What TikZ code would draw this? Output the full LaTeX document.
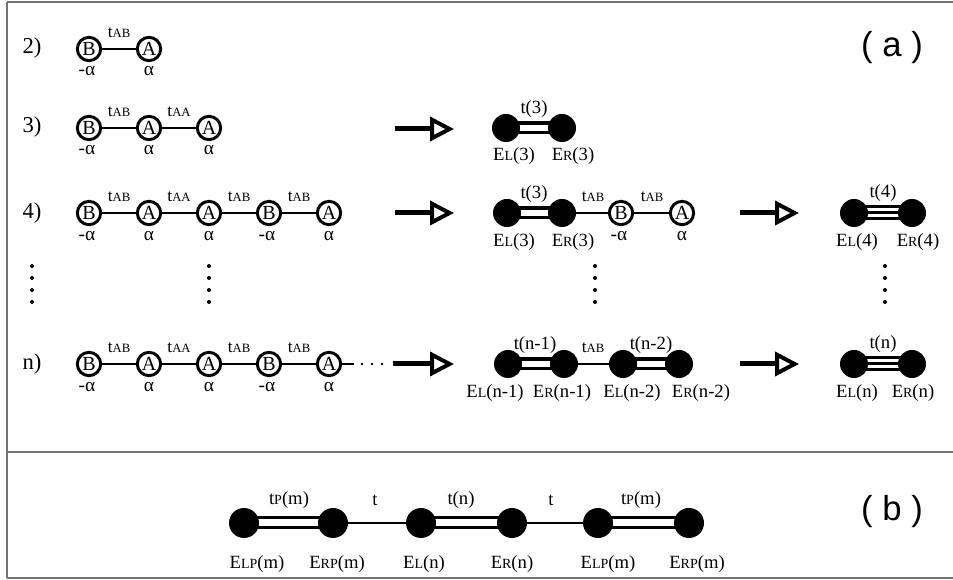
\documentclass[tikz,border=0pt]{standalone}
\usepackage{fontspec}
\setmainfont{Liberation Serif}
\newfontfamily\lblsans{Liberation Sans}
\usetikzlibrary{arrows.meta,backgrounds}
\newcommand\mysub[1]{{\fontsize{10.5}{11}\selectfont #1}}
\newcommand\tsub[1]{{\fontsize{9.5}{10}\selectfont #1}}
\begin{document}
\begin{tikzpicture}[x=0.75pt,y=-0.75pt,
  rowlbl/.style={font=\fontsize{17}{19}\selectfont, inner sep=0},
  tl/.style={font=\fontsize{13}{14}\selectfont, inner sep=0},
  bl/.style={font=\fontsize{14}{15}\selectfont, inner sep=0},
  el/.style={font=\fontsize{14}{15}\selectfont, inner sep=0},
  al/.style={font=\fontsize{14.5}{15}\selectfont, inner sep=0},
  site/.style={circle, draw, line width=2.2pt, minimum size=17.5pt, inner sep=0, font=\fontsize{15}{15}\selectfont},
  ball/.style={circle, fill=black, minimum size=21pt, inner sep=0},
  bigball/.style={circle, fill=black, minimum size=22.5pt, inner sep=0},
  sbond/.style={line width=1.7pt},
  dout/.style={line width=9.75pt},
  din/.style={draw=white, line width=4.5pt},
  bout/.style={line width=9.75pt},
  bin/.style={draw=white, line width=5.25pt},
  tout/.style={line width=11.25pt},
  tin/.style={draw=white, line width=2.25pt},
  bigarrow/.style={line width=3.75pt, -{Triangle[open, length=18pt, width=18pt, line width=3pt]}},
  frameline/.style={draw=black!55, line width=1.1pt},
  vdot/.style={circle, fill=black, minimum size=3pt, inner sep=0},
  sdot/.style={circle, fill=black, minimum size=2pt, inner sep=0},
  partlbl/.style={font=\lblsans\fontsize{26}{28}\selectfont, inner sep=0}
]
\useasboundingbox (0,0) rectangle (953,580);
% frame
\draw[frameline] (7,2) -- (953,2);
\draw[frameline] (7,2) -- (7,578);
\draw[frameline] (7,452) -- (953,452);
\draw[frameline] (7,578) -- (953,578);

\node[partlbl] (pa) at (892,48) {( a )};
\node[partlbl] (pb) at (892,512) {( b )};

% row labels
\node[rowlbl] (L2) at (32,48) {2)};
\node[rowlbl] (L3) at (32,127) {3)};
\node[rowlbl] (L4) at (32,213) {4)};
\node[rowlbl] (Ln) at (32,364) {n)};

% ---- row 2
\node[site] (r2c1) at (89,49) {B};
\node[site] (r2c2) at (149,49) {A};
\draw[sbond] (r2c1) -- (r2c2);
\node[tl] (r2t1) at (119,33) {t\tsub{AB}};
\node[al] (r2a1) at (87,71) {-α};
\node[al] (r2a2) at (149,71) {α};

% ---- row 3
\foreach \x/\l/\k in {89/B/1,149/A/2,209/A/3}
  \node[site] (r3c\k) at (\x,128) {\l};
\draw[sbond] (r3c1) -- (r3c2);
\draw[sbond] (r3c2) -- (r3c3);
\node[tl] (r3t1) at (119,112) {t\tsub{AB}};
\node[tl] (r3t2) at (179,112) {t\tsub{AA}};
\node[al] (r3a1) at (87,150) {-α};
\node[al] (r3a2) at (149,150) {α};
\node[al] (r3a3) at (209,150) {α};
\coordinate (ar3s) at (395,129);
\coordinate (ar3e) at (454,129);
\draw[bigarrow] (ar3s) -- (ar3e);
\node[ball] (r3e1) at (506,128) {};
\node[ball] (r3e2) at (562,128) {};
\begin{scope}[on background layer]
  \draw[dout] (r3e1.center) -- (r3e2.center);
  \draw[din] (r3e1.center) -- (r3e2.center);
\end{scope}
\node[bl] (r3tt) at (534,109) {t(3)};
\node[el] (r3l1) at (514,156) {E\mysub{L}(3)};
\node[el] (r3l2) at (573,156) {E\mysub{R}(3)};

% ---- row 4
\foreach \x/\l/\k in {89/B/1,149/A/2,209/A/3,269/B/4,329/A/5}
  \node[site] (r4c\k) at (\x,213) {\l};
\foreach \i/\j/\s/\x in {1/2/AB/119,2/3/AA/179,3/4/AB/239,4/5/AB/299} {
  \draw[sbond] (r4c\i) -- (r4c\j);
  \node[tl] (r4t\i) at (\x,197) {t\tsub{\s}};
}
\foreach \x/\a/\k in {87/-α/1,149/α/2,209/α/3,267/-α/4,329/α/5}
  \node[al] (r4a\k) at (\x,236) {\a};
\coordinate (ar4s) at (395,213);
\coordinate (ar4e) at (454,213);
\draw[bigarrow] (ar4s) -- (ar4e);
\node[ball] (r4e1) at (507,213) {};
\node[ball] (r4e2) at (562,213) {};
\begin{scope}[on background layer]
  \draw[dout] (r4e1.center) -- (r4e2.center);
  \draw[din] (r4e1.center) -- (r4e2.center);
\end{scope}
\node[site] (r4m1) at (621,213) {B};
\node[site] (r4m2) at (682,213) {A};
\draw[sbond] (r4e2) -- (r4m1);
\draw[sbond] (r4m1) -- (r4m2);
\node[bl] (r4tt) at (534,194) {t(3)};
\node[tl] (r4tm1) at (593,197) {t\tsub{AB}};
\node[tl] (r4tm2) at (652,197) {t\tsub{AB}};
\node[el] (r4l1) at (514,242) {E\mysub{L}(3)};
\node[el] (r4l2) at (573,242) {E\mysub{R}(3)};
\node[al] (r4ma1) at (619,236) {-α};
\node[al] (r4ma2) at (682,236) {α};
\coordinate (ar4bs) at (740,213);
\coordinate (ar4be) at (799,213);
\draw[bigarrow] (ar4bs) -- (ar4be);
\node[ball] (r4f1) at (854,213) {};
\node[ball] (r4f2) at (912,213) {};
\begin{scope}[on background layer]
  \draw[tout] (r4f1.center) -- (r4f2.center);
  \draw[tin] ([yshift=2.25pt]r4f1.center) -- ([yshift=2.25pt]r4f2.center);
  \draw[tin] ([yshift=-2.25pt]r4f1.center) -- ([yshift=-2.25pt]r4f2.center);
\end{scope}
\node[bl] (r4ft) at (883,193) {t(4)};
\node[el] (r4fl1) at (857,242) {E\mysub{L}(4)};
\node[el] (r4fl2) at (918,242) {E\mysub{R}(4)};

% ---- vertical dots
\foreach \x/\c in {32/a,209/b,595/c,885/d}
  \foreach \y/\k in {266/1,278/2,290/3,302/4}
    \node[vdot] (vd\c\k) at (\x,\y) {};

% ---- row n
\foreach \x/\l/\k in {89/B/1,149/A/2,209/A/3,269/B/4,329/A/5}
  \node[site] (rnc\k) at (\x,364) {\l};
\foreach \i/\j/\s/\x in {1/2/AB/119,2/3/AA/179,3/4/AB/239,4/5/AB/299} {
  \draw[sbond] (rnc\i) -- (rnc\j);
  \node[tl] (rnt\i) at (\x,348) {t\tsub{\s}};
}
\foreach \x/\a/\k in {87/-α/1,149/α/2,209/α/3,267/-α/4,329/α/5}
  \node[al] (rna\k) at (\x,387) {\a};
\coordinate (rnend) at (354,364);
\draw[sbond] (rnc5) -- (rnend);
\foreach \x/\k in {362/1,372/2,382/3}
  \node[sdot] (rnd\k) at (\x,364) {};
\coordinate (arns) at (393,364);
\coordinate (arne) at (454,364);
\draw[bigarrow] (arns) -- (arne);
\node[ball] (rne1) at (508,364) {};
\node[ball] (rne2) at (564,364) {};
\node[ball] (rne3) at (623,364) {};
\node[ball] (rne4) at (679,364) {};
\begin{scope}[on background layer]
  \draw[dout] (rne1.center) -- (rne2.center);
  \draw[din] (rne1.center) -- (rne2.center);
  \draw[dout] (rne3.center) -- (rne4.center);
  \draw[din] (rne3.center) -- (rne4.center);
\end{scope}
\draw[sbond] (rne2) -- (rne3);
\node[bl] (rntt1) at (535,345) {t(n-1)};
\node[tl] (rntt2) at (593,348) {t\tsub{AB}};
\node[bl] (rntt3) at (651,345) {t(n-2)};
\node[el] (rnl1) at (495,393) {E\mysub{L}(n-1)};
\node[el] (rnl2) at (562,393) {E\mysub{R}(n-1)};
\node[el] (rnl3) at (632,393) {E\mysub{L}(n-2)};
\node[el] (rnl4) at (701,393) {E\mysub{R}(n-2)};
\coordinate (arnbs) at (740,364);
\coordinate (arnbe) at (799,364);
\draw[bigarrow] (arnbs) -- (arnbe);
\node[ball] (rnf1) at (854,364) {};
\node[ball] (rnf2) at (912,364) {};
\begin{scope}[on background layer]
  \draw[tout] (rnf1.center) -- (rnf2.center);
  \draw[tin] ([yshift=2.25pt]rnf1.center) -- ([yshift=2.25pt]rnf2.center);
  \draw[tin] ([yshift=-2.25pt]rnf1.center) -- ([yshift=-2.25pt]rnf2.center);
\end{scope}
\node[bl] (rnft) at (883,344) {t(n)};
\node[el] (rnfl1) at (857,393) {E\mysub{L}(n)};
\node[el] (rnfl2) at (913,393) {E\mysub{R}(n)};

% ---- part (b)
\foreach \x/\k in {244/1,333/2,421/3,512/4,598/5,689/6}
  \node[bigball] (pb\k) at (\x,523) {};
\begin{scope}[on background layer]
  \foreach \i/\j in {1/2,3/4,5/6} {
    \draw[bout] (pb\i.center) -- (pb\j.center);
    \draw[bin] (pb\i.center) -- (pb\j.center);
  }
\end{scope}
\draw[sbond] (pb2) -- (pb3);
\draw[sbond] (pb4) -- (pb5);
\node[bl] (pbt1) at (289,500) {t\mysub{P}(m)};
\node[bl] (pbt2) at (375,500) {t};
\node[bl] (pbt3) at (461,500) {t(n)};
\node[bl] (pbt4) at (551,500) {t};
\node[bl] (pbt5) at (641,500) {t\mysub{P}(m)};
\node[el] (pbl1) at (257,564) {E\mysub{LP}(m)};
\node[el] (pbl2) at (337,564) {E\mysub{RP}(m)};
\node[el] (pbl3) at (424,564) {E\mysub{L}(n)};
\node[el] (pbl4) at (512,564) {E\mysub{R}(n)};
\node[el] (pbl5) at (608,564) {E\mysub{LP}(m)};
\node[el] (pbl6) at (697,564) {E\mysub{RP}(m)};
\end{tikzpicture}
\end{document}
